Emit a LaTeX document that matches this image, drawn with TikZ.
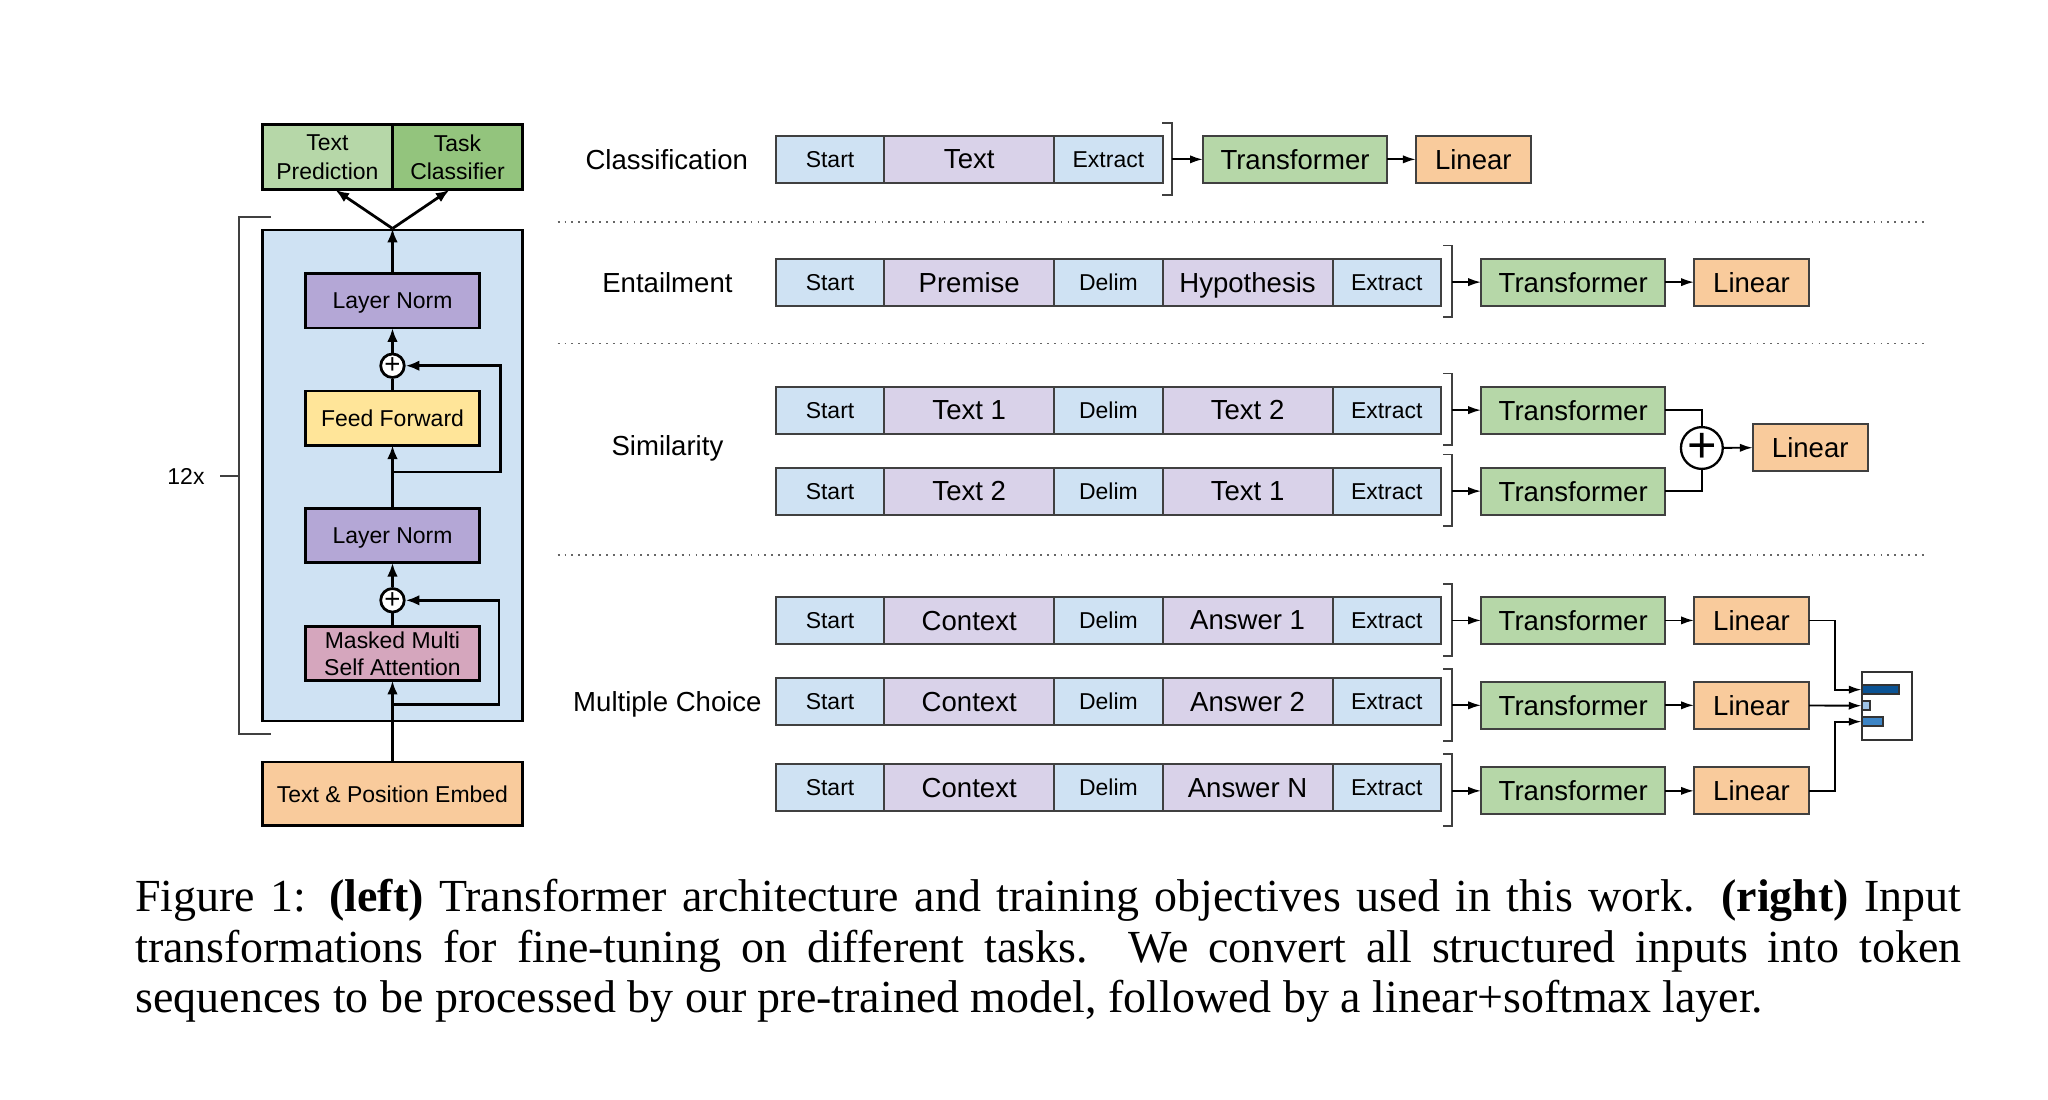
\documentclass[tikz,border=0pt]{standalone}
\usepackage{fontspec}
\setmainfont{Liberation Serif}
\newfontfamily\diafont{Liberation Sans}
\usetikzlibrary{arrows.meta, positioning}

\definecolor{lightgreen}{HTML}{B6D7A8}
\definecolor{midgreen}{HTML}{93C47D}
\definecolor{stackblue}{HTML}{CFE2F3}
\definecolor{tokblue}{HTML}{CFE2F3}
\definecolor{tokpurple}{HTML}{D9D2E9}
\definecolor{normpurple}{HTML}{B4A7D6}
\definecolor{ffyellow}{HTML}{FFE599}
\definecolor{attnpink}{HTML}{D5A6BD}
\definecolor{peach}{HTML}{F9CB9C}
\definecolor{bardark}{HTML}{0B5394}
\definecolor{barlight}{HTML}{9FC5E8}
\definecolor{barmid}{HTML}{3D85C6}

\begin{document}
\begin{tikzpicture}[
    x=0.01cm, y=-0.01cm,
    fsmall/.style={font=\diafont\fontsize{5}{6}\selectfont},
    fbig/.style={font=\diafont\fontsize{6}{7}\selectfont},
    flat/.style={text depth=0pt},
    layer/.style={draw, line width=0.6pt, fsmall, flat, minimum width=1.33cm, minimum height=0.415cm, inner sep=0pt, outer sep=0pt, align=center},
    head/.style={layer, font=\diafont\fontsize{5}{6.2}\selectfont, minimum width=0.995cm, minimum height=0.50cm},
    tok/.style={draw=black!75, line width=0.45pt, fill=tokblue, fsmall, flat, minimum width=0.83cm, minimum height=0.36cm, inner sep=0pt, outer sep=0pt},
    seg/.style={tok, fill=tokpurple, fbig, minimum width=1.30cm},
    trans/.style={draw=black!75, line width=0.45pt, fill=lightgreen, fbig, flat, minimum width=1.41cm, minimum height=0.36cm, inner sep=0pt, outer sep=0pt},
    lin/.style={trans, fill=peach, minimum width=0.88cm},
    task/.style={fbig, flat},
    sum/.style={draw, circle, line width=0.6pt, fill=white, inner sep=0pt, minimum size=0.18cm, font=\diafont\fontsize{6}{6}\selectfont},
    bar/.style={draw=black!80, line width=0.4pt, minimum height=0.071cm, inner sep=0pt, outer sep=0pt, anchor=west},
    bigarrow/.style={-{Latex[length=3pt,width=2.3pt]}, line width=0.6pt},
    smallarrow/.style={-{Latex[length=2.8pt,width=1.8pt]}, line width=0.4pt},
    brace/.style={draw=black!75, line width=0.4pt},
    sep/.style={draw=black!60, line width=0.4pt, dash pattern=on 0.4pt off 1.1pt}
]
\useasboundingbox (0,0) rectangle (1568,841.5);

% Left: the transformer stack
\node[draw, line width=0.6pt, fill=stackblue, minimum width=1.99cm, minimum height=3.758cm, inner sep=0pt] (stack) at (300.5,364) {};
\node[head, fill=lightgreen] (tp) at (250.7,120.3) {Text\\Prediction};
\node[head, fill=midgreen, right=0pt of tp] (tc) {Task\\Classifier};

\node[layer, fill=normpurple] (ln1) at (300.5,230.4) {Layer Norm};
\node[sum] (plus1) at (300.5,280) {+};
\node[layer, fill=ffyellow] (ff) at (300.5,320.1) {Feed Forward};
\node[layer, fill=normpurple] (ln2) at (300.5,410.1) {Layer Norm};
\node[sum] (plus2) at (300.5,459.6) {+};
\node[layer, fill=attnpink] (mmsa) at (300.5,500.3) {Masked Multi\\Self Attention};
\node[layer, fill=peach, minimum width=1.99cm, minimum height=0.484cm] (embed) at (300.5,607.7) {Text \& Position Embed};

\coordinate (res1) at (300.5,361.3);
\coordinate (res2) at (300.5,539.4);

\draw[bigarrow] (embed) -- (mmsa);
\draw[line width=0.6pt] (mmsa) -- (plus2);
\draw[bigarrow] (res2) -- ++(81.6,0) |- (plus2);
\draw[bigarrow] (plus2) -- (ln2);
\draw[bigarrow] (ln2) -- (ff);
\draw[line width=0.6pt] (ff) -- (plus1);
\draw[bigarrow] (res1) -- ++(82.9,0) |- (plus1);
\draw[bigarrow] (plus1) -- (ln1);
\draw[bigarrow] (ln1) -- (stack.north);
\draw[bigarrow] (stack.north) -- ([xshift=0.06cm]tp.south);
\draw[bigarrow] (stack.north) -- ([xshift=-0.06cm]tc.south);

% 12x bracket
\coordinate (rep) at (183.3,364.5);
\node[fsmall] (reps) at (142.4,364.5) {12x};
\draw[brace] ([shift={(24.2,-198.3)}]rep) -- ([shift={(0,-198.3)}]rep) -- ([shift={(0,197.4)}]rep) -- ([shift={(24.2,197.4)}]rep);
\draw[brace] (rep) -- ++(-14.8,0);

% Classification
\node[task] (lcls) at (510.5,122) {Classification};
\node[tok] (c1) at (635.5,122) {Start};
\node[seg, right=0pt of c1] (c2) {Text};
\node[tok, right=0pt of c2] (c3) {Extract};
\coordinate (cbr) at (897,122);
\draw[brace] ([shift={(-7,-28)}]cbr) -- ([shift={(0,-28)}]cbr) -- ([shift={(0,27)}]cbr) -- ([shift={(-7,27)}]cbr);
\node[trans] (ctr) at (991.5,122) {Transformer};
\node[lin] (clin) at (1128,122) {Linear};
\draw[smallarrow] (cbr) -- (ctr);
\draw[smallarrow] (ctr) -- (clin);

\draw[sep] (427,170) -- (1476,170);

% Entailment
\node[task] (lent) at (511,216) {Entailment};
\node[tok] (e1) at (635.5,216) {Start};
\node[seg, right=0pt of e1] (e2) {Premise};
\node[tok, right=0pt of e2] (e3) {Delim};
\node[seg, right=0pt of e3] (e4) {Hypothesis};
\node[tok, right=0pt of e4] (e5) {Extract};
\coordinate (ebr) at (1112,216);
\draw[brace] ([shift={(-7,-28)}]ebr) -- ([shift={(0,-28)}]ebr) -- ([shift={(0,27)}]ebr) -- ([shift={(-7,27)}]ebr);
\node[trans] (etr) at (1204.5,216) {Transformer};
\node[lin] (elin) at (1341,216) {Linear};
\draw[smallarrow] (ebr) -- (etr);
\draw[smallarrow] (etr) -- (elin);

\draw[sep] (427,263) -- (1476,263);

% Similarity
\node[task] (lsim) at (511,341) {Similarity};
\node[tok] (s1) at (635.5,314) {Start};
\node[seg, right=0pt of s1] (s2) {Text 1};
\node[tok, right=0pt of s2] (s3) {Delim};
\node[seg, right=0pt of s3] (s4) {Text 2};
\node[tok, right=0pt of s4] (s5) {Extract};
\node[tok] (t1) at (635.5,376) {Start};
\node[seg, right=0pt of t1] (t2) {Text 2};
\node[tok, right=0pt of t2] (t3) {Delim};
\node[seg, right=0pt of t3] (t4) {Text 1};
\node[tok, right=0pt of t4] (t5) {Extract};
\coordinate (sbr1) at (1112,314);
\coordinate (sbr2) at (1112,376);
\draw[brace] ([shift={(-7,-28)}]sbr1) -- ([shift={(0,-28)}]sbr1) -- ([shift={(0,27)}]sbr1) -- ([shift={(-7,27)}]sbr1);
\draw[brace] ([shift={(-7,-28)}]sbr2) -- ([shift={(0,-28)}]sbr2) -- ([shift={(0,27)}]sbr2) -- ([shift={(-7,27)}]sbr2);
\node[trans] (str1) at (1204.5,314) {Transformer};
\node[trans] (str2) at (1204.5,376) {Transformer};
\node[sum, line width=0.5pt, minimum size=0.32cm, font=\diafont\fontsize{11}{11}\selectfont] (ssum) at (1303,343) {+};
\node[lin] (slin) at (1386,342.5) {Linear};
\draw[smallarrow] (sbr1) -- (str1);
\draw[smallarrow] (sbr2) -- (str2);
\draw[line width=0.4pt] (str1) -| (ssum);
\draw[line width=0.4pt] (str2) -| (ssum);
\draw[smallarrow] (ssum) -- (slin);

\draw[sep] (427,425) -- (1476,425);

% Multiple choice
\node[task] (lmc) at (511,537) {Multiple Choice};
\node[tok] (m1) at (635.5,475) {Start};
\node[seg, right=0pt of m1] (m2) {Context};
\node[tok, right=0pt of m2] (m3) {Delim};
\node[seg, right=0pt of m3] (m4) {Answer 1};
\node[tok, right=0pt of m4] (m5) {Extract};
\node[tok] (n1) at (635.5,537) {Start};
\node[seg, right=0pt of n1] (n2) {Context};
\node[tok, right=0pt of n2] (n3) {Delim};
\node[seg, right=0pt of n3] (n4) {Answer 2};
\node[tok, right=0pt of n4] (n5) {Extract};
\node[tok] (o1) at (635.5,603) {Start};
\node[seg, right=0pt of o1] (o2) {Context};
\node[tok, right=0pt of o2] (o3) {Delim};
\node[seg, right=0pt of o3] (o4) {Answer N};
\node[tok, right=0pt of o4] (o5) {Extract};
\coordinate (mbr1) at (1112,475);
\coordinate (mbr2) at (1112,540);
\coordinate (mbr3) at (1112,605.5);
\draw[brace] ([shift={(-7,-28)}]mbr1) -- ([shift={(0,-28)}]mbr1) -- ([shift={(0,27)}]mbr1) -- ([shift={(-7,27)}]mbr1);
\draw[brace] ([shift={(-7,-28)}]mbr2) -- ([shift={(0,-28)}]mbr2) -- ([shift={(0,27)}]mbr2) -- ([shift={(-7,27)}]mbr2);
\draw[brace] ([shift={(-7,-28)}]mbr3) -- ([shift={(0,-28)}]mbr3) -- ([shift={(0,27)}]mbr3) -- ([shift={(-7,27)}]mbr3);
\node[trans] (mtr1) at (1204.5,475) {Transformer};
\node[trans] (mtr2) at (1204.5,540) {Transformer};
\node[trans] (mtr3) at (1204.5,605.5) {Transformer};
\node[lin] (mlin1) at (1341,475) {Linear};
\node[lin] (mlin2) at (1341,540) {Linear};
\node[lin] (mlin3) at (1341,605.5) {Linear};
\draw[smallarrow] (mbr1) -- (mtr1);
\draw[smallarrow] (mbr2) -- (mtr2);
\draw[smallarrow] (mbr3) -- (mtr3);
\draw[smallarrow] (mtr1) -- (mlin1);
\draw[smallarrow] (mtr2) -- (mlin2);
\draw[smallarrow] (mtr3) -- (mlin3);

% softmax output
\node[draw=black!80, line width=0.5pt, minimum width=0.383cm, minimum height=0.523cm, inner sep=0pt] (smax) at (1444.5,540.5) {};
\node[bar, fill=bardark, minimum width=0.284cm] (bar1) at (1425.3,528) {};
\node[bar, fill=barlight, minimum width=0.066cm] (bar2) at (1425.3,540.3) {};
\node[bar, fill=barmid, minimum width=0.164cm] (bar3) at (1425.3,552.5) {};
\draw[smallarrow] (mlin1.east) -- ++(20,0) |- (bar1.west);
\draw[smallarrow] (mlin2) -- (bar2.west);
\draw[smallarrow] (mlin3.east) -- ++(20,0) |- (bar3.west);

% Caption
\node[anchor=base west, text width=397.5pt, align=justify, inner sep=0pt, font=\fontsize{10}{11}\selectfont] (cap) at (103,698) {Figure 1: \textbf{(left)} Transformer architecture and training objectives used in this work. \textbf{(right)} \mbox{Input} \mbox{transformations} for fine-tuning on different tasks. We convert all structured inputs into token \mbox{sequences} to be processed by our pre-trained model, followed by a linear+softmax layer.};

\end{tikzpicture}
\end{document}
